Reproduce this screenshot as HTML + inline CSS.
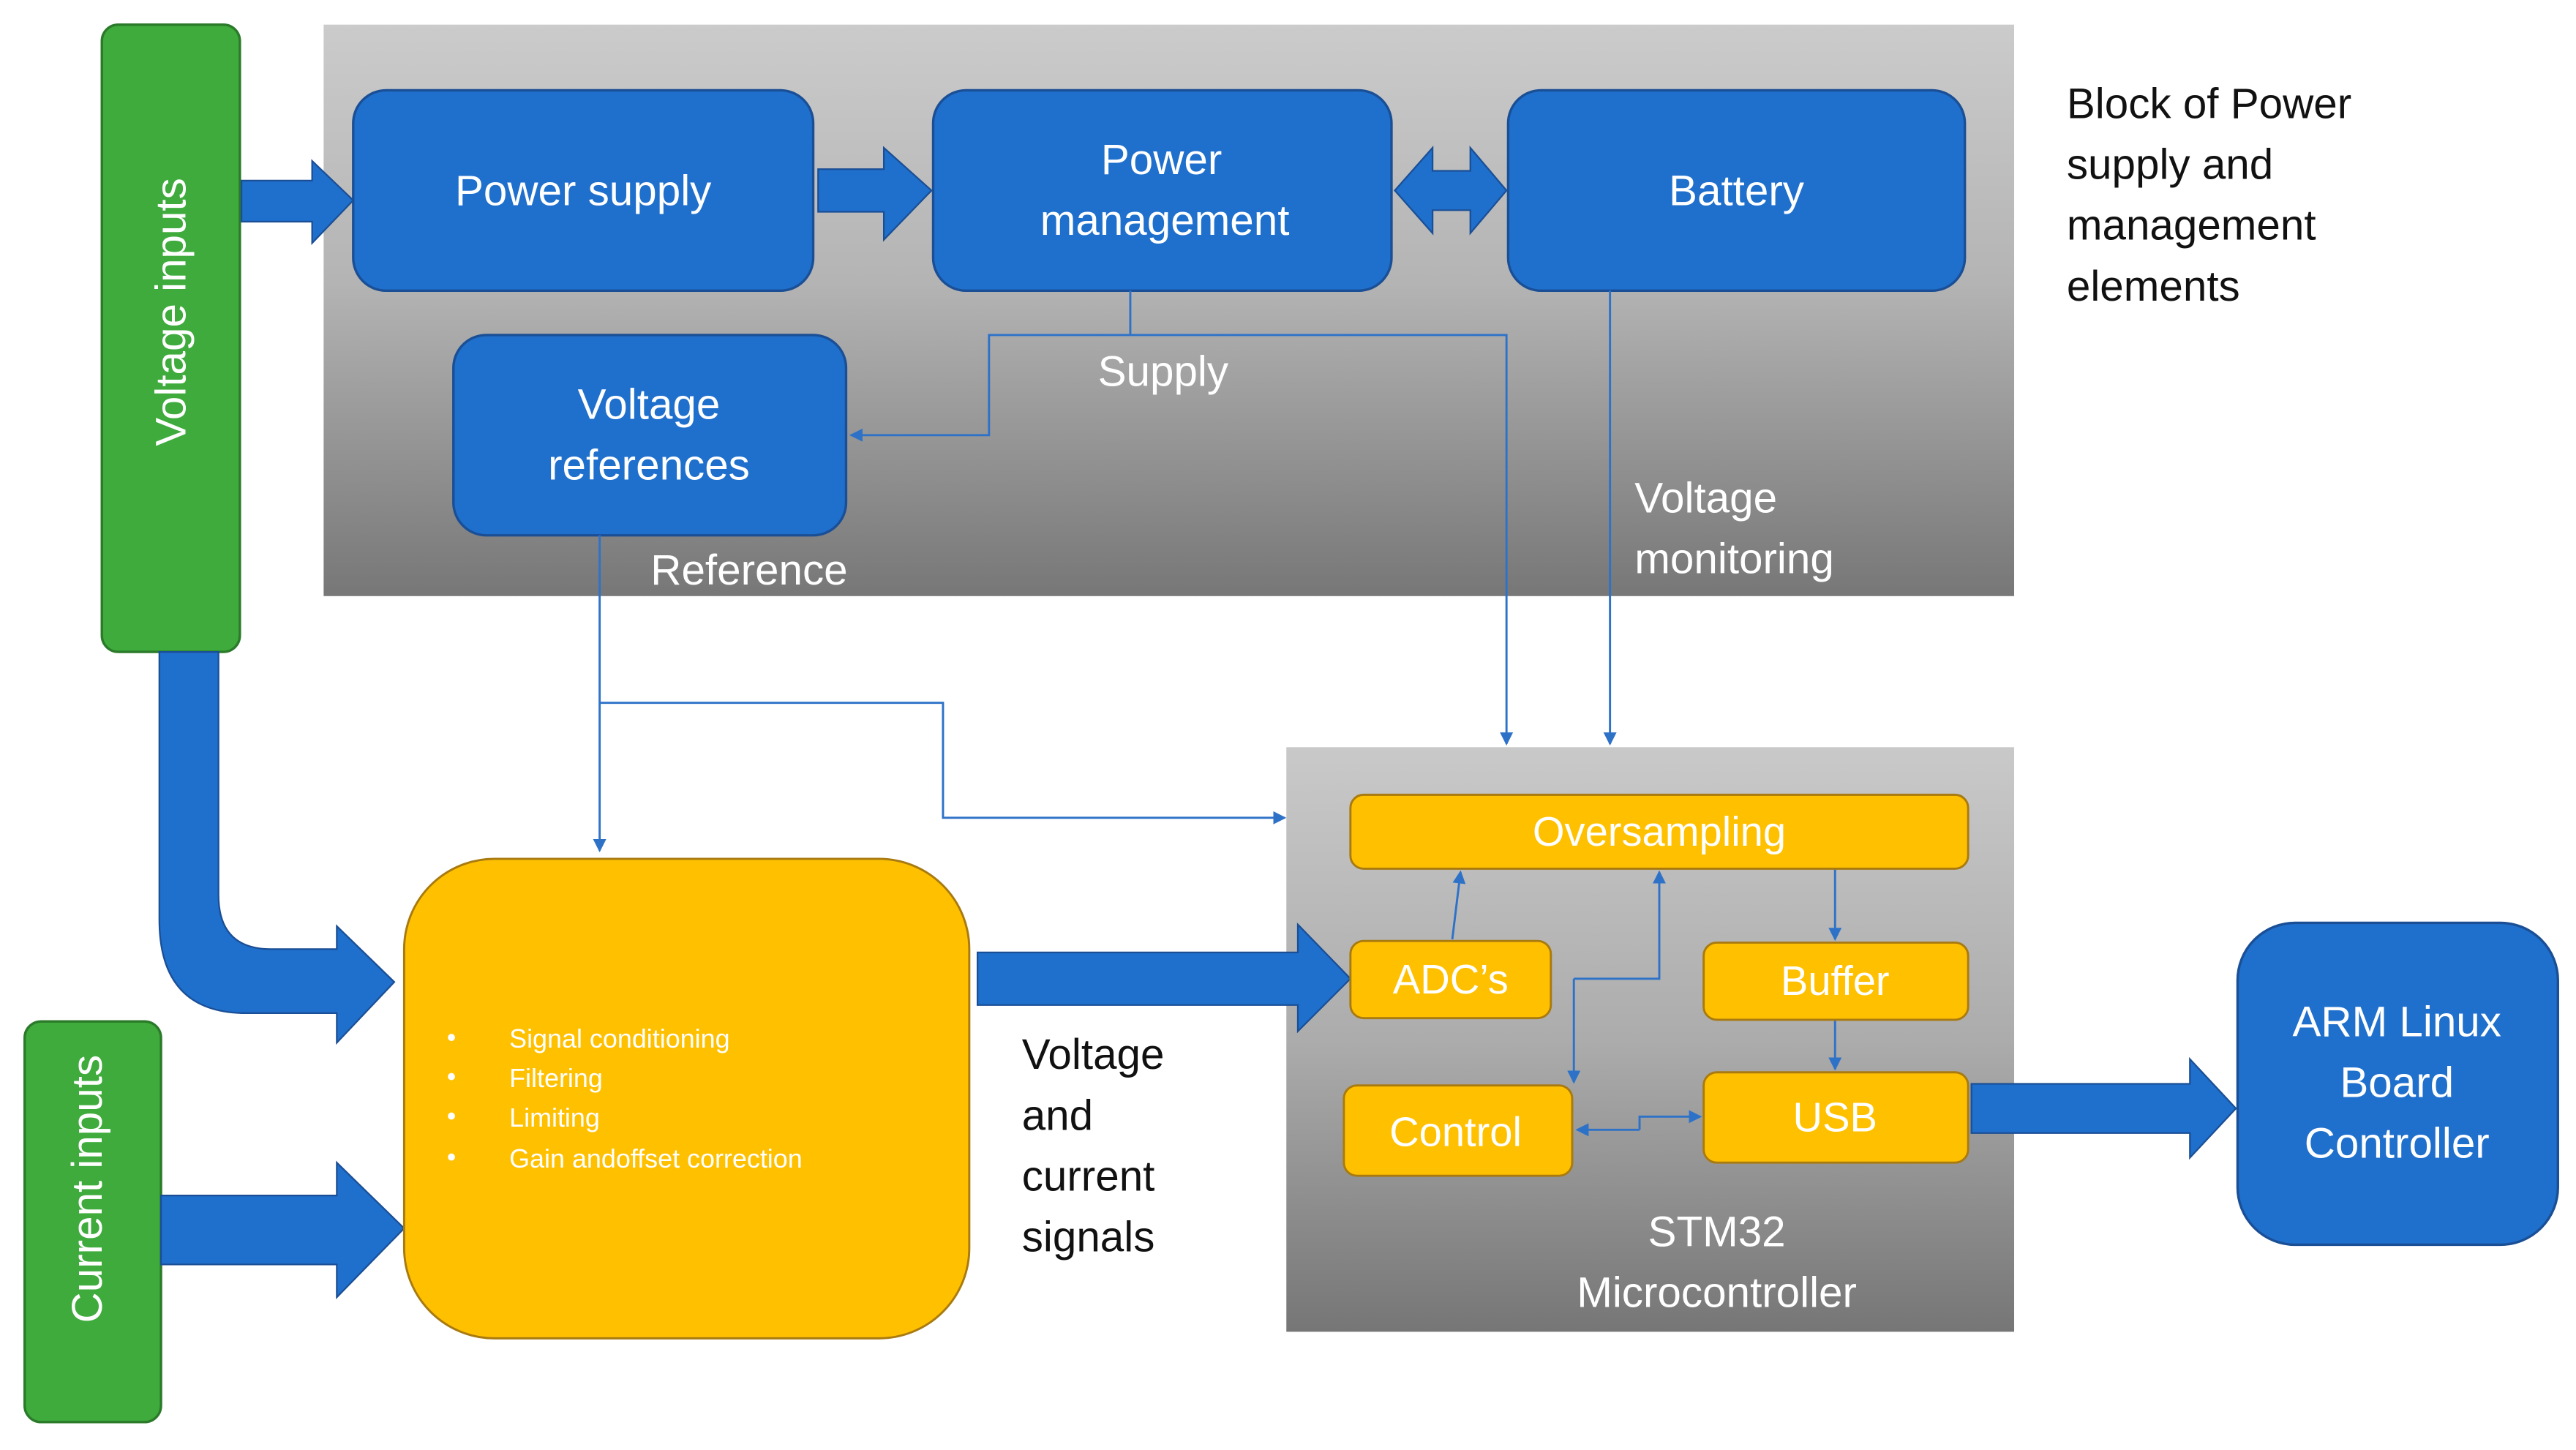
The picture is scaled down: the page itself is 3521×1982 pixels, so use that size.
<!DOCTYPE html>
<html><head><meta charset="utf-8"><style>
html,body{margin:0;padding:0;background:#fff;}
svg{display:block;}
text{font-family:"Liberation Sans",sans-serif;}
</style></head><body>
<svg width="3521" height="1982" viewBox="0 0 1568 883" preserveAspectRatio="none" xmlns="http://www.w3.org/2000/svg">
<defs>
<linearGradient id="g1" x1="0" y1="0" x2="0" y2="1"><stop offset="0" stop-color="#cbcbcb"/><stop offset="0.45" stop-color="#b4b4b4"/><stop offset="1" stop-color="#777"/></linearGradient>
<linearGradient id="g2" x1="0" y1="0" x2="0" y2="1"><stop offset="0" stop-color="#c9c9c9"/><stop offset="0.5" stop-color="#acacac"/><stop offset="1" stop-color="#767676"/></linearGradient>
<marker id="a" markerWidth="8" markerHeight="8" refX="7" refY="4" orient="auto" markerUnits="userSpaceOnUse"><path d="M0,0 L8,4 L0,8 z" fill="#2e72c8"/></marker>
</defs>
<rect x="197" y="15" width="1029" height="348" fill="url(#g1)"/>
<rect x="783" y="455" width="443" height="356" fill="url(#g2)"/>

<!-- green boxes -->
<rect x="62" y="15" width="84" height="382" rx="10" fill="#3eab3c" stroke="#2b7a2a" stroke-width="1.5"/>
<text transform="translate(113,190) rotate(-90)" text-anchor="middle" fill="#fff" font-size="26">Voltage inputs</text>
<rect x="15" y="622" width="83" height="244" rx="10" fill="#3eab3c" stroke="#2b7a2a" stroke-width="1.5"/>
<text transform="translate(62,724) rotate(-90)" text-anchor="middle" fill="#fff" font-size="26">Current inputs</text>

<!-- block arrows -->
<g fill="#1f6fcc" stroke="#1a4f96" stroke-width="1">
<path d="M147,110 L190,110 L190,98 L215,122 L190,148 L190,135 L147,135 z"/>
<path d="M498,103 L538,103 L538,90 L567,116 L538,146 L538,129 L498,129 z"/>
<path d="M849,116 L872,90 L872,104 L895,104 L895,90 L917,116 L895,142 L895,128 L872,128 L872,142 z"/>
<path d="M97,397 L133,397 L133,545 Q133,578 165,578 L205,578 L205,564 L240,598 L205,635 L205,617 L150,617 Q97,617 97,560 z"/>
<path d="M98,728 L205,728 L205,708 L246,748 L205,790 L205,770 L98,770 z"/>
<path d="M595,580 L790,580 L790,563 L822,596 L790,628 L790,612 L595,612 z"/>
<path d="M1200,660 L1333,660 L1333,645 L1361,675 L1333,705 L1333,690 L1200,690 z"/>
</g>

<!-- blue boxes -->
<g fill="#1f6fcc" stroke="#1a4f96" stroke-width="1.5">
<rect x="215" y="55" width="280" height="122" rx="20"/>
<rect x="568" y="55" width="279" height="122" rx="20"/>
<rect x="918" y="55" width="278" height="122" rx="20"/>
<rect x="276" y="204" width="239" height="122" rx="20"/>
<rect x="1362" y="562" width="195" height="196" rx="35"/>
</g>
<g fill="#fff" font-size="26" text-anchor="middle">
<text x="355" y="125">Power supply</text>
<text x="707" y="106">Power</text>
<text x="709" y="143">management</text>
<text x="1057" y="125">Battery</text>
<text x="395" y="255">Voltage</text>
<text x="395" y="292">references</text>
<text x="1459" y="631">ARM Linux</text>
<text x="1459" y="668">Board</text>
<text x="1459" y="705">Controller</text>
<text x="708" y="235">Supply</text>
<text x="456" y="356">Reference</text>
<text x="1045" y="759">STM32</text>
<text x="1045" y="796">Microcontroller</text>
</g>
<g fill="#fff" font-size="26">
<text x="995" y="312">Voltage</text>
<text x="995" y="349">monitoring</text>
</g>
<g fill="#111" font-size="26">
<text x="1258" y="72">Block of Power</text>
<text x="1258" y="109">supply and</text>
<text x="1258" y="146">management</text>
<text x="1258" y="183">elements</text>
<text x="622" y="651">Voltage</text>
<text x="622" y="688">and</text>
<text x="622" y="725">current</text>
<text x="622" y="762">signals</text>
</g>

<!-- thin connectors -->
<g fill="none" stroke="#2e72c8" stroke-width="1.3">
<path d="M688,177 L688,204 L917,204 L917,453" marker-end="url(#a)"/>
<path d="M688,204 L602,204 L602,265 L518,265" marker-end="url(#a)"/>
<path d="M980,177 L980,453" marker-end="url(#a)"/>
<path d="M365,326 L365,518" marker-end="url(#a)"/>
<path d="M365,428 L574,428 L574,498 L782,498" marker-end="url(#a)"/>
<path d="M884,572 L889,531" marker-end="url(#a)"/>
<path d="M958,596 L1010,596 L1010,531" marker-end="url(#a)"/>
<path d="M958,596 L958,659" marker-end="url(#a)"/>
<path d="M998,688 L960,688" marker-end="url(#a)"/>
<path d="M998,688 L998,680 L1035,680" marker-end="url(#a)"/>
<path d="M1117,529 L1117,572" marker-end="url(#a)"/>
<path d="M1117,621 L1117,651" marker-end="url(#a)"/>
</g>

<!-- yellow boxes -->
<g fill="#ffc000" stroke="#a87a10" stroke-width="1.3">
<rect x="246" y="523" width="344" height="292" rx="55"/>
<rect x="822" y="484" width="376" height="45" rx="8"/>
<rect x="822" y="573" width="122" height="47" rx="8"/>
<rect x="1037" y="574" width="161" height="47" rx="8"/>
<rect x="818" y="661" width="139" height="55" rx="8"/>
<rect x="1037" y="653" width="161" height="55" rx="8"/>
</g>
<g fill="#fff" font-size="25" text-anchor="middle">
<text x="1010" y="515">Oversampling</text>
<text x="883" y="605">ADC’s</text>
<text x="1117" y="606">Buffer</text>
<text x="886" y="698">Control</text>
<text x="1117" y="689">USB</text>
</g>
<g fill="#fff" font-size="16">
<text x="272" y="637">•</text><text x="310" y="638">Signal conditioning</text>
<text x="272" y="661">•</text><text x="310" y="662">Filtering</text>
<text x="272" y="685">•</text><text x="310" y="686">Limiting</text>
<text x="272" y="710">•</text><text x="310" y="711">Gain andoffset correction</text>
</g>
</svg>
</body></html>
